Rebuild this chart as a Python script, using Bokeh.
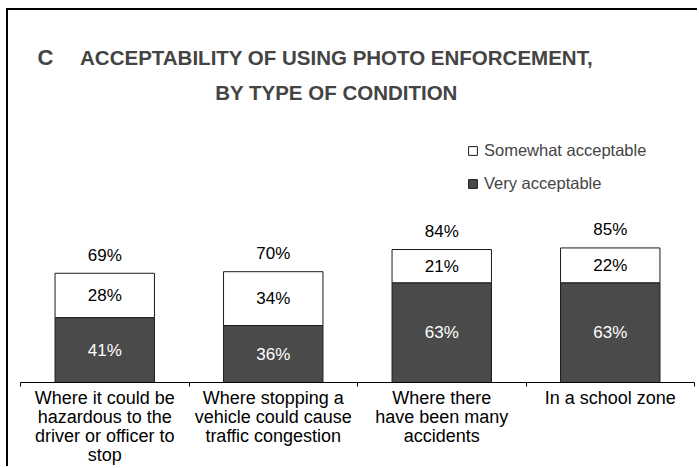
from bokeh.plotting import figure
from bokeh.models import Range1d, FixedTicker, Label, Legend, LegendItem, ColumnDataSource
from bokeh.core.properties import value
from bokeh.embed import file_html
from bokeh.resources import INLINE

# ---- data ----
categories = [
    "Where it could be\nhazardous to the\ndriver or officer to\nstop",
    "Where stopping a\nvehicle could cause\ntraffic congestion",
    "Where there\nhave been many\naccidents",
    "In a school zone",
]
very = [41, 36, 63, 63]
somewhat = [28, 34, 21, 22]
total = [69, 70, 84, 85]
series_names = ["Somewhat acceptable", "Very acceptable"]
panel_letter = "C"
title_lines = ["ACCEPTABILITY OF USING PHOTO ENFORCEMENT,", "BY TYPE OF CONDITION"]

FONT = "Liberation Sans"
DARK = "#4a4a4a"

n = len(categories)
xs = [i + 0.5 for i in range(n)]
tops = [v + s for v, s in zip(very, somewhat)]
src = ColumnDataSource(dict(
    x=xs, very=very, top=tops,
    very_mid=[v / 2 for v in very],
    som_mid=[v + s / 2 for v, s in zip(very, somewhat)],
    very_lbl=[f"{v}%" for v in very],
    som_lbl=[f"{s}%" for s in somewhat],
    tot_lbl=[f"{t}%" for t in total],
))

p = figure(width=691, height=458, output_backend="svg", toolbar_location=None,
           x_range=Range1d(0, n), y_range=Range1d(0, 235),
           y_axis_location=None, min_border_left=12, min_border_right=5,
           min_border_top=0, min_border_bottom=85)
p.styles = {"margin-left": "6px", "margin-top": "8px",
            "border-left": "2px solid black", "border-top": "2px solid black"}
p.outline_line_color = None
p.xgrid.visible = False
p.ygrid.visible = False
p.background_fill_color = "white"
p.border_fill_color = "white"

r_very = p.vbar(x="x", width=0.59, bottom=0, top="very", source=src,
                fill_color=DARK, line_color="#1a1a1a", line_width=1)
r_som = p.vbar(x="x", width=0.59, bottom="very", top="top", source=src,
               fill_color="white", line_color="#1a1a1a", line_width=1)

p.text(x="x", y="very_mid", text="very_lbl", source=src, text_color="white",
       text_font=value(FONT), text_font_size="17px", text_align="center",
       text_baseline="middle")
p.text(x="x", y="som_mid", text="som_lbl", source=src, text_color="black",
       text_font=value(FONT), text_font_size="17px", text_align="center",
       text_baseline="middle")
p.text(x="x", y="top", text="tot_lbl", source=src, text_color="black",
       text_font=value(FONT), text_font_size="17px", text_align="center",
       text_baseline="middle", y_offset=-18)

ax = p.xaxis[0]
ax.ticker = FixedTicker(ticks=xs, minor_ticks=list(range(n + 1)))
ax.major_label_overrides = {x: c for x, c in zip(xs, categories)}
ax.major_tick_line_color = None
ax.major_tick_out = 0
ax.major_tick_in = 0
ax.minor_tick_in = 0
ax.minor_tick_out = 4
ax.minor_tick_line_color = "black"
ax.axis_line_color = "black"
ax.major_label_text_font = FONT
ax.major_label_text_font_size = "18px"
ax.major_label_text_color = "black"
ax.major_label_text_line_height = 0.96
ax.major_label_standoff = 1

legend = Legend(items=[LegendItem(label=series_names[0], renderers=[r_som]),
                       LegendItem(label=series_names[1], renderers=[r_very])],
                location=(447, 189), padding=0, margin=0, spacing=13,
                glyph_width=11, glyph_height=11, label_standoff=6,
                label_height=20, label_text_font=FONT,
                label_text_font_size="16.5px", border_line_color=None,
                background_fill_alpha=0)
p.add_layout(legend, "center")

p.add_layout(Label(x=17, y=325, x_units="screen", y_units="screen", text=panel_letter,
                   text_font=FONT, text_font_style="bold", text_font_size="22px",
                   text_baseline="middle", text_align="left"))
p.add_layout(Label(x=316, y=325, x_units="screen", y_units="screen", text=title_lines[0],
                   text_font=FONT, text_font_style="bold", text_font_size="20.5px",
                   text_baseline="middle", text_align="center"))
p.add_layout(Label(x=316, y=290, x_units="screen", y_units="screen", text=title_lines[1],
                   text_font=FONT, text_font_style="bold", text_font_size="20.5px",
                   text_baseline="middle", text_align="center"))

open("out.html", "w").write(file_html(p, INLINE))
